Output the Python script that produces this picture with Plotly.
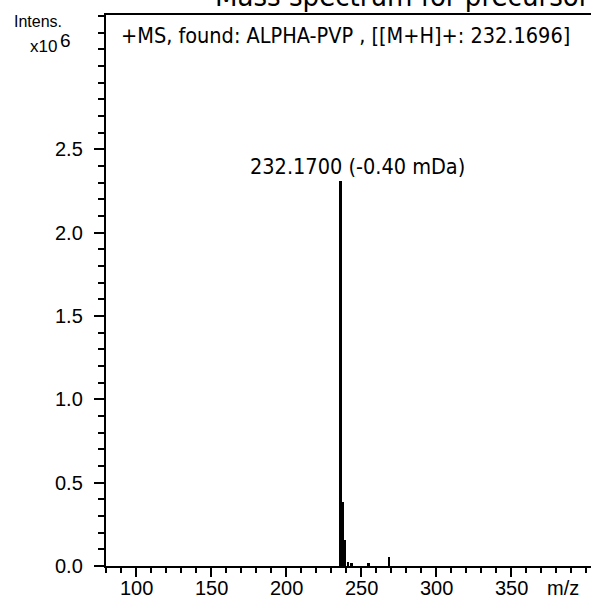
import plotly.graph_objects as go

# ---- data (intensity in units of 1e6), positions ----
mz = [236.3, 237.9, 239.3, 241.3, 243.7, 254.9, 268.8]
intensity = [2.31, 0.383, 0.157, 0.026, 0.016, 0.016, 0.052]
peak_label = "232.1700 (-0.40 mDa)"
x_tick_vals = [100, 150, 200, 250, 300, 350]
x_tick_text = ["100", "150", "200", "250", "300", "350"]
y_tick_vals = [0.0, 0.5, 1.0, 1.5, 2.0, 2.5]
y_tick_text = ["0.0", "0.5", "1.0", "1.5", "2.0", "2.5"]
header_text = "+MS, found: ALPHA-PVP , [[M+H]+: 232.1696]"
title_text = "Mass spectrum for precursor ion"

W, H = 591, 601
L, T, R, B = 106, 15, 0, 35
pw, ph = W - L - R, H - T - B

def px(xp):  # pixel x -> paper
    return (xp - L) / pw

def py(yp):  # pixel y -> paper
    return (H - B - yp) / ph

fig = go.Figure()
fig.add_trace(go.Bar(x=mz, y=intensity, width=1.55,
                     marker=dict(color="black", line=dict(width=0)),
                     hoverinfo="x+y"))

tick_font = dict(family="Liberation Sans, Arial, sans-serif", size=20, color="black")
label_font = dict(family="DejaVu Sans Condensed, DejaVu Sans, sans-serif", size=21.5, color="black")

fig.update_layout(
    width=W, height=H,
    margin=dict(l=L, t=T, r=R, b=B, pad=0),
    paper_bgcolor="white", plot_bgcolor="white",
    showlegend=False, bargap=0,
    xaxis=dict(range=[80, 403.3], showgrid=False, zeroline=False,
               showline=True, linecolor="black", linewidth=2, mirror=True,
               ticks="outside", ticklen=9, tickwidth=2, tickcolor="black",
               tickvals=x_tick_vals, showticklabels=False,
               minor=dict(dtick=10, tick0=0, ticks="outside", ticklen=5,
                          tickwidth=2, tickcolor="black", showgrid=False)),
    yaxis=dict(range=[0, 3.307], showgrid=False, zeroline=False,
               showline=True, linecolor="black", linewidth=2,
               ticks="outside", ticklen=10, tickwidth=2, tickcolor="black",
               tickvals=y_tick_vals, showticklabels=False,
               minor=dict(dtick=0.1, tick0=0, ticks="outside", ticklen=6,
                          tickwidth=2, tickcolor="black", showgrid=False)),
)

ann = []
# tick labels placed at the axis values
for v, t in zip(x_tick_vals, x_tick_text):
    ann.append(dict(x=v, y=py(588), xref="x", yref="paper", text=t, showarrow=False,
                    xanchor="center", yanchor="middle", font=tick_font))
for v, t in zip(y_tick_vals, y_tick_text):
    ann.append(dict(x=px(85), y=v, xref="paper", yref="y", text=t, showarrow=False,
                    xanchor="right", yanchor="middle", font=tick_font))
# peak label (slightly right of the peak, as in the reference)
ann.append(dict(x=mz[0], y=2.40, xref="x", yref="y", text=peak_label,
                showarrow=False, yanchor="middle", xanchor="center", xshift=17,
                font=label_font))
# header text
ann.append(dict(x=px(119), y=py(36), xref="paper", yref="paper", text=header_text,
                showarrow=False, xanchor="left", yanchor="middle", font=label_font))
# y-axis title pieces
ann.append(dict(x=px(64), y=py(22), xref="paper", yref="paper", text="Intens.",
                showarrow=False, xanchor="right", yanchor="middle",
                font=dict(family="Liberation Sans, Arial", size=16, color="black")))
ann.append(dict(x=px(59), y=py(47), xref="paper", yref="paper", text="x10",
                showarrow=False, xanchor="right", yanchor="middle",
                font=dict(family="Liberation Sans, Arial", size=17, color="black")))
ann.append(dict(x=px(58), y=py(40), xref="paper", yref="paper", text="6",
                showarrow=False, xanchor="left", yanchor="middle",
                font=dict(family="Liberation Sans, Arial", size=19, color="black")))
# x-axis unit
ann.append(dict(x=px(563), y=py(588), xref="paper", yref="paper", text="m/z",
                showarrow=False, xanchor="center", yanchor="middle", font=tick_font))
# title, cut off at the top of the picture
ann.append(dict(x=px(213), y=py(15), xref="paper", yref="paper", text=title_text,
                showarrow=False, xanchor="left", yanchor="bottom",
                font=dict(family="DejaVu Sans Condensed, DejaVu Sans, sans-serif", size=29, color="black")))
fig.update_layout(annotations=ann)

# remove the default 8px page margin so the figure sits at the window's corner
fig.write_html("out.html", config={"displayModeBar": False},
               post_script="document.body.style.margin='0';")
